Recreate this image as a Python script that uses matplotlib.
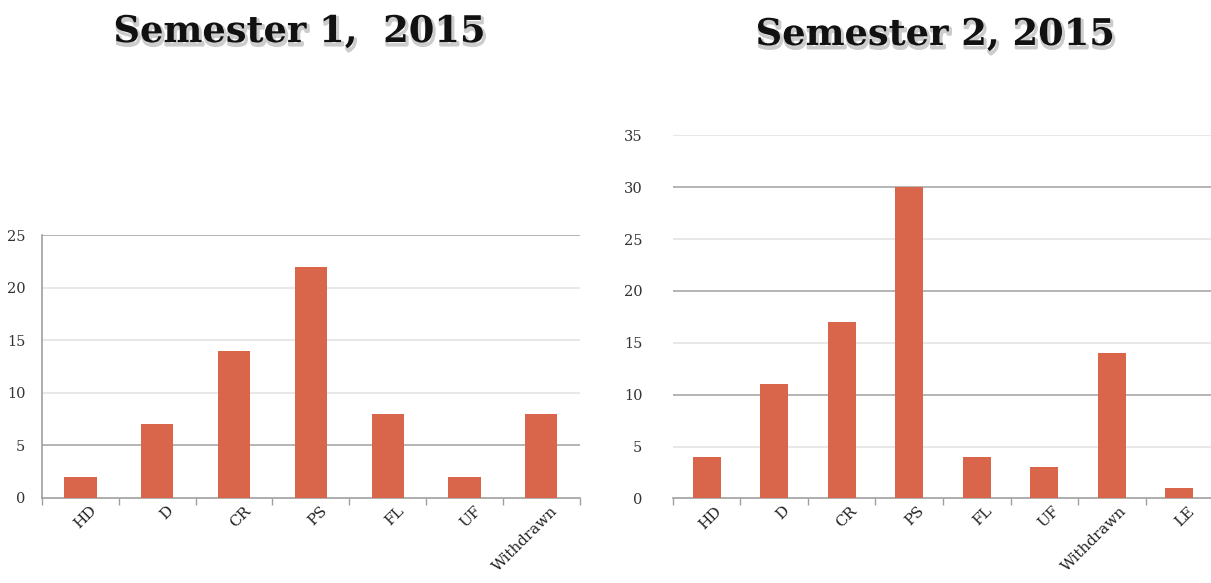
import matplotlib

matplotlib.use("Agg")
import matplotlib.pyplot as plt  # noqa: E402
import matplotlib.patheffects as pe  # noqa: E402
import numpy as np  # noqa: E402

S1_GRADES = ["HD", "D", "CR", "PS", "FL", "UF", "Withdrawn"]
S1_COUNTS = [2, 7, 14, 22, 8, 2, 8]
S1_TICKS = [0, 5, 10, 15, 20, 25]

S2_GRADES = ["HD", "D", "CR", "PS", "FL", "UF", "Withdrawn", "LE"]
S2_COUNTS = [4, 11, 17, 30, 4, 3, 14, 1]
S2_TICKS = [0, 5, 10, 15, 20, 25, 30, 35]

BAR = "#d9654a"
SERIF = ["DejaVu Serif"]


def draw_panel(ax, grades, counts, ticks, dark, show_spine):
    x = np.arange(len(grades))
    ax.set_xlim(-0.5, len(grades) - 0.5)
    ax.set_ylim(0, ticks[-1])
    for t in ticks[1:]:
        col = "#a8a8a8" if t in dark else "#e4e4e4"
        ax.axhline(t, color=col, lw=1.2, zorder=1)
    ax.bar(x, counts, width=0.42, color=BAR, zorder=3)
    for s in ax.spines.values():
        s.set_visible(False)
    ax.spines["bottom"].set_visible(True)
    ax.spines["bottom"].set_color("#a0a0a0")
    ax.spines["bottom"].set_linewidth(1.2)
    if show_spine:
        ax.spines["left"].set_visible(True)
        ax.spines["left"].set_color("#a0a0a0")
        ax.spines["left"].set_linewidth(1.2)
    ax.set_yticks(ticks)
    ax.set_yticklabels([str(t) for t in ticks], family=SERIF, fontsize=10.5,
                       color="#333333")
    ax.tick_params(axis="y", length=0, pad=12 if show_spine else 22)
    ax.set_xticks(np.arange(len(grades) + 1) - 0.5)
    ax.set_xticklabels([])
    ax.tick_params(axis="x", length=5, color="#a0a0a0", width=1)
    ax.set_xticks(x + 0.12, minor=True)
    ax.set_xticklabels(grades, minor=True, rotation=45, ha="right",
                       rotation_mode="anchor", family=SERIF, fontsize=11,
                       color="#222222")
    ax.tick_params(axis="x", which="minor", length=0, pad=4)


fig = plt.figure(figsize=(12.11, 5.83), dpi=100)
ax1 = fig.add_axes([0.0347, 0.1458, 0.444, 0.451])
ax2 = fig.add_axes([0.5557, 0.145, 0.446, 0.623])
draw_panel(ax1, S1_GRADES, S1_COUNTS, S1_TICKS, dark={5, 25}, show_spine=True)
draw_panel(ax2, S2_GRADES, S2_COUNTS, S2_TICKS, dark={10, 20, 30},
           show_spine=False)

shadow = [pe.SimpleLineShadow(offset=(1, -2), alpha=0.2, linewidth=2.5),
          pe.Normal()]
fig.text(0.247, 0.945, "Semester 1,  2015", ha="center", va="center",
         family=SERIF, fontsize=26.5, fontweight="bold", color="#111111",
         path_effects=shadow)
fig.text(0.772, 0.94, "Semester 2, 2015", ha="center", va="center",
         family=SERIF, fontsize=26.5, fontweight="bold", color="#111111",
         path_effects=shadow)

fig.savefig("out.png", dpi=100)
plt.close(fig)
